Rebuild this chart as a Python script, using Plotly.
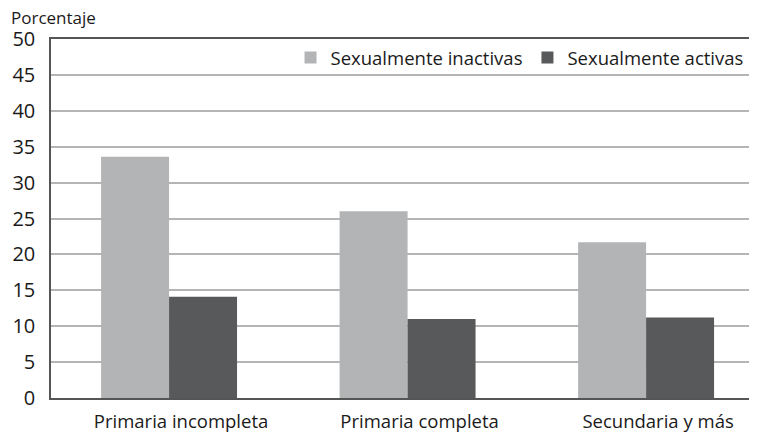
import plotly.graph_objects as go

categories = ["Primaria incompleta", "Primaria completa", "Secundaria y más"]
inactivas = [33.6, 26.0, 21.7]
activas = [14.1, 11.0, 11.2]
series_names = ["Sexualmente inactivas", "Sexualmente activas"]
y_ticks = [0, 5, 10, 15, 20, 25, 30, 35, 40, 45, 50]

FONT = "Open Sans"

fig = go.Figure()
fig.add_trace(go.Bar(x=categories, y=inactivas, name=series_names[0],
                     marker=dict(color="#b3b4b6", line=dict(width=0))))
fig.add_trace(go.Bar(x=categories, y=activas, name=series_names[1],
                     marker=dict(color="#58595b", line=dict(width=0))))

# page body has an 8px default margin; compensate in the figure margins
fig.update_layout(
    width=757, height=432,
    margin=dict(l=43, r=8, t=31, b=42, autoexpand=False),
    paper_bgcolor="white", plot_bgcolor="white",
    barmode="group", bargap=0.43, bargroupgap=0,
    font=dict(family=FONT, size=18, color="#1a1a1a"),
    showlegend=True,
    legend=dict(orientation="h", x=0.988, xanchor="right", y=0.947, yanchor="middle",
                bgcolor="rgba(0,0,0,0)", font=dict(size=18.5), traceorder="normal",
                itemwidth=30, tracegroupgap=0),
    xaxis=dict(type="category", range=[-0.495, 2.465], showgrid=False,
               showline=True, linecolor="#555555", linewidth=1.5, mirror=True,
               ticks="", tickfont=dict(size=18.5), ticklabelstandoff=6,
               ticklabelshift=12),
    yaxis=dict(range=[0, 50], tickvals=y_ticks, showgrid=True, gridcolor="#b5b5b5",
               gridwidth=1.5, showline=True, linecolor="#555555", linewidth=1.5,
               ticks="", tickfont=dict(size=20), zeroline=False, ticklabelstandoff=10),
    annotations=[dict(text="Porcentaje", xref="paper", yref="paper",
                      x=(10 - 51) / 706, y=1 + (39 - 17) / 359, xanchor="left",
                      yanchor="middle", showarrow=False, borderpad=0,
                      font=dict(size=17))],
)

fig.write_html("out.html")
